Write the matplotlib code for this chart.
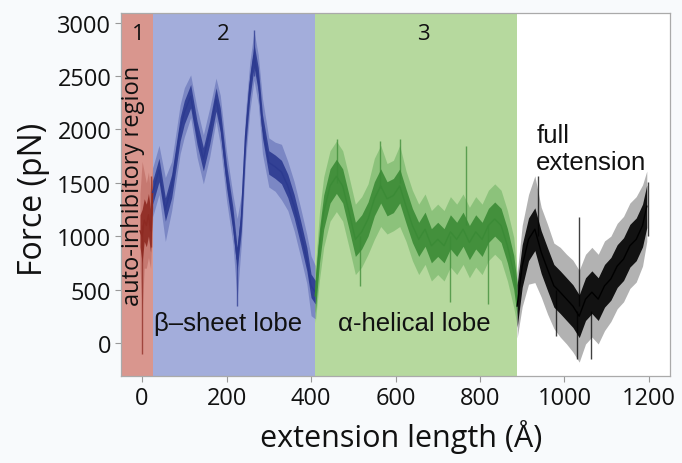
import matplotlib
matplotlib.use("Agg")
import matplotlib.pyplot as plt
import numpy as np

# ---- data ----
# region boundaries (Å)
region_edges = [-50, 25, 410, 888, 1250]
region_labels = ["1", "2", "3"]
region_colors = ["#d9968e", "#a3addb", "#b6d99e"]

# segment 1: auto-inhibitory region (red trace)
x1 = [-5, 0, 5, 10, 15, 20, 25]
y1 = [1050, 1000, 1150, 1100, 1200, 1050, 1410]
core1 = [150, 250, 200, 200, 200, 200, 150]
spike1 = [350, 700, 450, 400, 400, 350, 250]

# segment 2: beta-sheet lobe (blue trace)
x2 = [25, 40, 55, 70, 90, 100, 115, 130, 145, 160, 175, 185, 200, 215, 225,
      235, 245, 255, 265, 275, 285, 300, 315, 330, 345, 360, 375, 390, 400, 410]
y2 = [1410, 1620, 1250, 1470, 2000, 2160, 2310, 1970, 1720, 1970, 2280, 2090,
      1560, 1160, 785, 1160, 1940, 2400, 2690, 2470, 2030, 1690, 1650, 1600,
      1470, 1280, 1040, 785, 535, 475]
core2 = [110] * len(x2)
spike2 = [230, 230, 300, 230, 230, 230, 200, 230, 230, 230, 200, 230, 230, 230,
          380, 230, 230, 230, 230, 230, 260, 230, 230, 260, 230, 230, 230, 230,
          280, 250]

# segment 3: alpha-helical lobe (green trace)
x3 = [410, 420, 430, 445, 460, 475, 490, 505, 520, 535, 550, 565, 580, 595,
      610, 625, 640, 655, 670, 685, 700, 715, 730, 745, 760, 775, 790, 805,
      820, 835, 850, 865, 880, 888]
y3 = [440, 910, 1225, 1470, 1560, 1470, 1225, 970, 1040, 1160, 1350, 1470,
      1350, 1380, 1470, 1280, 1100, 970, 1065, 910, 970, 910, 1040, 970, 1065,
      940, 1040, 970, 1100, 1160, 1100, 910, 660, 410]
core3 = [160] * len(x3)
spike3 = [250, 320, 330, 330, 330, 330, 330, 330, 330, 330, 380, 380, 330, 330,
          380, 330, 330, 330, 330, 330, 330, 330, 330, 330, 330, 330, 330, 330,
          330, 330, 330, 330, 330, 250]

# segment 4: full extension (black trace)
x4 = [888, 900, 915, 930, 945, 960, 975, 990, 1005, 1020, 1035, 1050, 1065,
      1080, 1095, 1110, 1125, 1140, 1155, 1170, 1185, 1195]
y4 = [345, 720, 970, 1065, 850, 690, 535, 475, 410, 345, 250, 410, 475, 410,
      535, 600, 720, 785, 910, 970, 1100, 1280]
core4 = [200] * len(x4)
spike4 = [300, 380, 420, 500, 420, 420, 400, 420, 420, 430, 430, 420, 420, 420,
          420, 400, 400, 400, 400, 400, 380, 330]

# isolated spikes (x, low, high) per segment
spk_x1 = [0, 20]
spk_lo1 = [-100, 900]
spk_hi1 = [1100, 1560]
spk_x2 = [265, 225]
spk_lo2 = [2500, 345]
spk_hi2 = [2935, 900]
spk_x3 = [461, 563, 611, 767, 516, 729, 819]
spk_lo3 = [1500, 1450, 1500, 1100, 536, 380, 365]
spk_hi3 = [1907, 1890, 1907, 1845, 1000, 1000, 1100]
spk_x4 = [937, 1035, 1198, 1029, 1064, 981]
spk_lo4 = [1000, 350, 1000, -150, -150, 68]
spk_hi4 = [1565, 1180, 1505, 300, 300, 500]

trace_colors = ["#8e2a22", "#2c3a90", "#3b8b36", "#000000"]
band_colors = ["#b0574f", "#4b5aa8", "#5aa852", "#555555"]

xticks = [0, 200, 400, 600, 800, 1000, 1200]
yticks = [0, 500, 1000, 1500, 2000, 2500, 3000]

# ---- figure ----
fig = plt.figure(figsize=(6.82, 4.64), dpi=100, facecolor="#f8fafc")
ax = fig.add_axes([121 / 682, 1 - 377 / 464, (670 - 121) / 682, (377 - 14) / 464])
ax.set_facecolor("white")
ax.set_xlim(-50, 1250)
ax.set_ylim(-310, 3090)

for i, c in enumerate(region_colors):
    ax.axvspan(region_edges[i], region_edges[i + 1], color=c, lw=0, zorder=0)

segments = [(x1, y1, core1, spike1), (x2, y2, core2, spike2),
            (x3, y3, core3, spike3), (x4, y4, core4, spike4)]
spikes = [(spk_x1, spk_lo1, spk_hi1), (spk_x2, spk_lo2, spk_hi2),
          (spk_x3, spk_lo3, spk_hi3), (spk_x4, spk_lo4, spk_hi4)]
for (xs, ys, cs, ss), (sx, slo, shi), tc, bc in zip(segments, spikes,
                                                    trace_colors, band_colors):
    xs = np.array(xs); ys = np.array(ys); cs = np.array(cs); ss = np.array(ss)
    ax.fill_between(xs, ys - ss, ys + ss, color=bc, alpha=0.45, lw=0, zorder=2)
    ax.fill_between(xs, ys - cs, ys + cs, color=tc, alpha=0.9, lw=0, zorder=3)
    ax.plot(xs, ys, color=tc, lw=1.0, zorder=4)
    ax.vlines(sx, slo, shi, color=tc, lw=1.0, alpha=0.75, zorder=4)

# region numbers
num_font = dict(family="Open Sans", fontsize=16, color="#111111", ha="center", va="center")
ax.text(-10, 2900, region_labels[0], **num_font)
ax.text(192, 2900, region_labels[1], **num_font)
ax.text(667, 2900, region_labels[2], **num_font)

ax.text(-21, 1480, "auto-inhibitory region", rotation=90, ha="center", va="center",
        family="Open Sans", fontsize=17, color="#111111")
lab_font = dict(family="Liberation Sans", fontsize=18.5, color="#111111")
ax.text(28, 190, "β\u2013sheet lobe", ha="left", va="center", **lab_font)
ax.text(464, 190, "α-helical lobe", ha="left", va="center", **lab_font)
ax.text(933, 2060, "full\nextension", ha="left", va="top", linespacing=1.15,
        **lab_font)

ax.set_xticks(xticks)
ax.set_yticks(yticks)
for lbl in ax.get_xticklabels() + ax.get_yticklabels():
    lbl.set_family("Open Sans")
    lbl.set_fontsize(17)
    lbl.set_color("#111111")
ax.tick_params(direction="out", length=4, width=0.8, color="#999999", pad=3)
for sp in ax.spines.values():
    sp.set_color("#aaaaaa")
    sp.set_linewidth(0.9)

ax.set_xlabel("extension length (Å)", family="Open Sans", fontsize=22, color="#111111")
ax.xaxis.set_label_coords(0.51, -0.118)
ax.set_ylabel("Force (pN)", family="Open Sans", fontsize=23, color="#111111")
ax.yaxis.set_label_coords(-0.129, 0.49)

fig.savefig("out.png", dpi=100, facecolor=fig.get_facecolor())
